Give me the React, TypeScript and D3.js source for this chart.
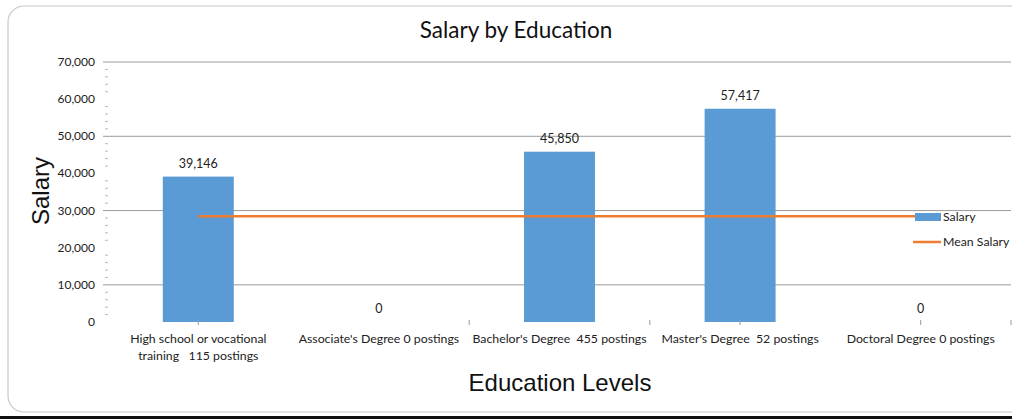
import { scaleBand, scaleLinear, range as d3range, mean, format } from 'd3';

const W = 1012;
const H = 419;
const BLUE = '#5b9bd5';
const ORANGE = '#ed7d31';
const LABEL_FONT = 'Lato, "Open Sans", sans-serif';
const TITLE_FONT = '"Liberation Sans", Arial, sans-serif';

// data
const categories = [
  'High school or vocational training',
  "Associate's Degree",
  "Bachelor's Degree",
  "Master's Degree",
  'Doctoral Degree',
];
const categoryLines = [
  ['High school or vocational', 'training   115 postings'],
  ["Associate's Degree 0 postings"],
  ["Bachelor's Degree  455 postings"],
  ["Master's Degree  52 postings"],
  ['Doctoral Degree 0 postings'],
];
const salary = [39146, 0, 45850, 57417, 0];
const yTicks = [0, 10000, 20000, 30000, 40000, 50000, 60000, 70000];
const gridValues = [10000, 30000, 50000, 70000];
// category tick marks, in category units from the left edge
const xTickUnits = [0.5, 2, 3, 3.5, 4.5, 5];

export default function App() {
  const plotLeft = 108;
  const plotRight = 1011;
  const plotTop = 62;
  const plotBottom = 322;

  const x = scaleBand<string>().domain(categories).range([plotLeft, plotRight]).padding(0);
  const step = x.step();
  const barW = step * 0.393;
  const y = scaleLinear().domain([0, 70000]).range([plotBottom, plotTop]);
  const fmt = format(',');
  const meanSalary = mean(salary) ?? 0;
  const minorTicks = d3range(0, 70001, 2000).filter(v => v % 10000 !== 0);

  const cx = (c: string) => (x(c) ?? 0) + step / 2;
  const first = categories[0];
  const last = categories[categories.length - 1];

  return (
    <svg width={W} height={H} style={{ position: 'absolute', left: 0, top: 0 }}>
      <rect width={W} height={H} fill="#fff" />
      {/* frame */}
      <rect x={8} y={6} width={W + 20} height={406} rx={16} fill="none" stroke="#c8c8c8" strokeWidth={1.2} />
      <rect x={0} y={416} width={W} height={3} fill="#111" />

      <text x={516} y={38} textAnchor="middle" fontFamily={LABEL_FONT} fontSize={22.5} fill="#111">
        Salary by Education
      </text>

      {/* gridlines */}
      {gridValues.map(v => (
        <line key={v} x1={103} x2={plotRight} y1={y(v)} y2={y(v)} stroke="#9a9a9a" strokeWidth={1} />
      ))}

      {/* minor ticks */}
      {minorTicks.map(v => (
        <line key={v} x1={105} x2={108} y1={y(v)} y2={y(v)} stroke="#b8b8b8" strokeWidth={1} />
      ))}

      {/* y tick labels */}
      {yTicks.map(v => (
        <text key={v} x={95} y={y(v) + 4} textAnchor="end" fontFamily={LABEL_FONT} fontSize={12} fill="#222">
          {fmt(v)}
        </text>
      ))}

      {/* bars */}
      {categories.map((c, i) => (
        <rect key={c} x={cx(c) - barW / 2} y={y(salary[i])} width={barW} height={y(0) - y(salary[i])} fill={BLUE} />
      ))}

      {/* x ticks */}
      {xTickUnits.map(u => (
        <line key={u} x1={plotLeft + u * step} x2={plotLeft + u * step} y1={320} y2={325} stroke="#999" strokeWidth={1} />
      ))}

      {/* mean line */}
      <line x1={cx(first)} x2={cx(last)} y1={y(meanSalary)} y2={y(meanSalary)} stroke={ORANGE} strokeWidth={2.5} />

      {/* data labels */}
      {categories.map((c, i) => (
        <text key={c} x={cx(c)} y={y(salary[i]) - 9} textAnchor="middle" fontFamily={LABEL_FONT} fontSize={12.5} fill="#222">
          {fmt(salary[i])}
        </text>
      ))}

      {/* category labels */}
      {categories.map((c, i) => (
        <text key={c} x={cx(c)} y={343} textAnchor="middle" fontFamily={LABEL_FONT} fontSize={12.3} fill="#222">
          {categoryLines[i].map((ln, j) => (
            <tspan key={j} x={cx(c)} dy={j === 0 ? 0 : 17} style={{ whiteSpace: 'pre' }}>
              {ln}
            </tspan>
          ))}
        </text>
      ))}

      {/* axis titles */}
      <text x={560} y={391} textAnchor="middle" fontFamily={TITLE_FONT} fontSize={24} fill="#111">
        Education Levels
      </text>
      <text transform="translate(49,191) rotate(-90)" textAnchor="middle" fontFamily={TITLE_FONT} fontSize={24} fill="#111">
        Salary
      </text>

      {/* legend */}
      <rect x={915} y={213} width={26} height={8} fill={BLUE} />
      <text x={943} y={221} fontFamily={LABEL_FONT} fontSize={12.3} fill="#222">Salary</text>
      <line x1={913} x2={941} y1={242} y2={242} stroke={ORANGE} strokeWidth={2.5} />
      <text x={943} y={246} fontFamily={LABEL_FONT} fontSize={12.3} fill="#222">Mean Salary</text>
    </svg>
  );
}
